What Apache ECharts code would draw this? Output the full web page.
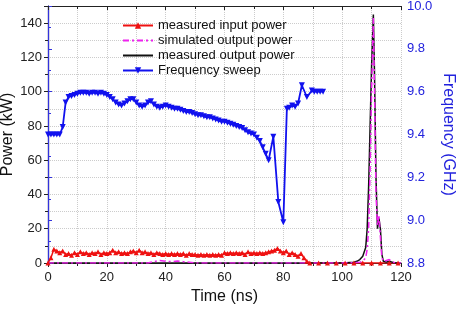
<!DOCTYPE html>
<html><head><meta charset="utf-8">
<script src="https://cdn.jsdelivr.net/npm/echarts@6/dist/echarts.min.js"></script>
<style>html,body{margin:0;padding:0;background:#fff}#c{width:460px;height:310px}</style>
</head><body><div id="c"></div>
<script>
// measured input power (kW) [time ns, kW]
const inputTime = [0,1,2,3,4,5,6,7,8,9,10,11,12,13,14,15,16,17,18,19,20,21,22,23,24,25,26,27,28,29,30,31,32,33,34,35,36,37,38,39,40,41,42,43,44,45,46,47,48,49,50,51,52,53,54,55,56,57,58,59,60,61,62,63,64,65,66,67,68,69,70,71,72,73,74,75,76,77,78,79,80,81,82,83,84,85,86,87,88,89,92,95,98,101,104,107,110,113,116,119];
const inputPower = [0,3,8,7,6,7,5,5.5,4.5,6,5,6.5,5.5,6,5,6,5.5,6.5,5,6,5.5,6,7.5,6,6.5,5.5,6,5.5,6.5,7,6,7.5,6,6.5,5.5,6,5,6,5.5,5,5.5,5,5.5,5,5.5,5,5.5,4.5,5.5,5,5,4.5,5,4.5,5,4.5,5,4.5,5,4.5,6,5.5,6,5.5,6,5.5,6,5,6.5,5.5,6,5.5,6,5.5,6,6.5,7,7.5,8.5,7,6,7,5,6,5,4,5.5,3,1,0,0,0,0,0,0,0,0,0,0,0];
// simulated output power
const simTime = [0,34,36,38,40,42,44,46,48,50,100,104,106,107,108,108.5,109,109.5,110,110.6,111,111.5,112,112.5,113,113.5,114,115,116,117,118,120];
const simPower = [0,0,0.8,1.5,1,0.8,1.2,0.8,0.5,0,0,0.2,0.5,1,3,8,20,55,100,143,100,40,22,28,15,3,1,1.5,2,1,0,0];
// measured output power
const measTime = [0,50,60,80,100,104,105,106,107,108,108.5,109,109.5,110,110.6,111,111.5,112,112.5,113,113.5,114,115,116,117,118,120];
const measPower = [0,0,0,0,0,0.5,1,2,4,9,20,45,80,115,145,110,50,20,26,20,5,1,0.5,1,0.5,0,0];
// frequency sweep (GHz)
const freqTime = [0,1,2,3,4,5,6,7,8,9,10,11,12,13,14,15,16,17,18,19,20,21,22,23,24,25,26,27,28,29,30,31,32,33,34,35,36,37,38,39,40,41,42,43,44,45,46,47,48,49,50,51,52,53,54,55,56,57,58,59,60,61,62,63,64,65,66,67,68,69,70,71,72,73,74,75,76.6,78.3,80,81.2,82,83,84,85,86.3,88,89.7,90.5,91.5,92.5,93.5];
const freqGHz = [9.40,9.40,9.40,9.40,9.40,9.435,9.55,9.575,9.58,9.585,9.59,9.595,9.595,9.595,9.59,9.595,9.595,9.59,9.595,9.59,9.585,9.575,9.565,9.55,9.54,9.535,9.545,9.555,9.565,9.565,9.55,9.535,9.53,9.535,9.55,9.555,9.54,9.53,9.525,9.53,9.535,9.53,9.525,9.52,9.52,9.515,9.51,9.505,9.505,9.50,9.495,9.49,9.49,9.485,9.48,9.48,9.475,9.47,9.465,9.46,9.46,9.455,9.45,9.445,9.44,9.435,9.43,9.42,9.41,9.405,9.40,9.385,9.37,9.34,9.31,9.28,9.39,9.085,8.99,9.52,9.525,9.535,9.53,9.545,9.63,9.575,9.605,9.60,9.60,9.60,9.60];

const zip = (a,b)=>a.map((t,i)=>[t,b[i]]);
const FONT = 'Liberation Sans';
const chart = echarts.init(document.getElementById('c'));
chart.setOption({
  animation:false,
  textStyle:{fontFamily:FONT},
  grid:{left:48,right:59,top:6,bottom:47,containLabel:false,outerBoundsMode:'none'},
  legend:{
    orient:'vertical', left:117, top:14, itemWidth:30, itemHeight:8, itemGap:2,
    textStyle:{fontFamily:FONT,fontSize:13,color:'#111'},
    data:[
      {name:'measured input power'},
      {name:'simulated output power', itemStyle:{opacity:0}},
      {name:'measured output power', itemStyle:{opacity:0}},
      {name:'Frequency sweep'}
    ]
  },
  xAxis:[{
    type:'value', min:0, max:120, interval:20,
    name:'Time (ns)', nameLocation:'middle', nameGap:26, nameMoveOverlap:false,
    nameTextStyle:{fontFamily:FONT,fontSize:16,color:'#111'},
    axisLine:{lineStyle:{color:'#222',width:1.2}},
    axisTick:{inside:false,length:4,lineStyle:{color:'#222'}},
    minorTick:{show:true,splitNumber:2,length:3,lineStyle:{color:'#222'}},
    axisLabel:{fontFamily:FONT,fontSize:13,color:'#222',margin:8},
    splitLine:{show:true,lineStyle:{color:'#ccc',type:'dotted'}},
    minorSplitLine:{show:true,lineStyle:{color:'#ccc',type:'dotted'}}
  },{
    type:'value', position:'top', min:0, max:120, interval:20,
    axisLine:{show:true,lineStyle:{color:'#222',width:1.2}},
    axisTick:{inside:true,length:4,lineStyle:{color:'#222'}},
    minorTick:{show:true,splitNumber:2,length:3,lineStyle:{color:'#222'}},
    axisLabel:{show:false}, splitLine:{show:false}
  }],
  yAxis:[{
    type:'value', min:0, max:150, interval:20,
    name:'Power (kW)', nameLocation:'middle', nameGap:32, nameMoveOverlap:false,
    nameTextStyle:{fontFamily:FONT,fontSize:16,color:'#111'},
    axisLine:{show:true,lineStyle:{color:'#222',width:1.2}},
    axisTick:{show:true,length:4,lineStyle:{color:'#222'}},
    minorTick:{show:true,splitNumber:2,length:3,lineStyle:{color:'#222'}},
    axisLabel:{fontFamily:FONT,fontSize:13,color:'#222',margin:6,showMaxLabel:false},
    splitLine:{show:true,lineStyle:{color:'#ccc',type:'dotted'}},
    minorSplitLine:{show:true,lineStyle:{color:'#ccc',type:'dotted'}}
  },{
    type:'value', position:'right', min:8.8, max:10.0, interval:0.2,
    name:'Frequency (GHz)', nameLocation:'middle', nameGap:39, nameRotate:-90, nameMoveOverlap:false,
    nameTextStyle:{fontFamily:FONT,fontSize:16,color:'#2222dd'},
    axisLine:{show:true,lineStyle:{color:'#3333dd',width:1.2}},
    axisTick:{show:true,length:4,lineStyle:{color:'#3333dd'}},
    minorTick:{show:true,splitNumber:2,length:3,lineStyle:{color:'#3333dd'}},
    axisLabel:{fontFamily:FONT,fontSize:13,color:'#2222dd',margin:6,formatter:v=>v.toFixed(1)},
    splitLine:{show:false}
  }],
  series:[
    {name:'measured input power', type:'line', data:zip(inputTime,inputPower),
     symbol:'triangle', symbolSize:5, showAllSymbol:true,
     itemStyle:{color:'#ee1111'}, lineStyle:{color:'#ee1111',width:1.5}},
    {name:'measured output power', type:'line', data:zip(measTime,measPower),
     symbol:'none', itemStyle:{color:'#111'}, lineStyle:{color:'#111',width:1.5}},
    {name:'simulated output power', type:'line', data:zip(simTime,simPower),
     symbol:'none', itemStyle:{color:'#ee22ee'}, lineStyle:{color:'#ee22ee',width:1.5,type:[6,3,2,3]}},
    {name:'Frequency sweep', type:'line', yAxisIndex:1, data:zip(freqTime,freqGHz),
     symbol:'triangle', symbolRotate:180, symbolSize:6, showAllSymbol:true,
     itemStyle:{color:'#1111ee'}, lineStyle:{color:'#1111ee',width:1.8}}
  ]
});
</script></body></html>
